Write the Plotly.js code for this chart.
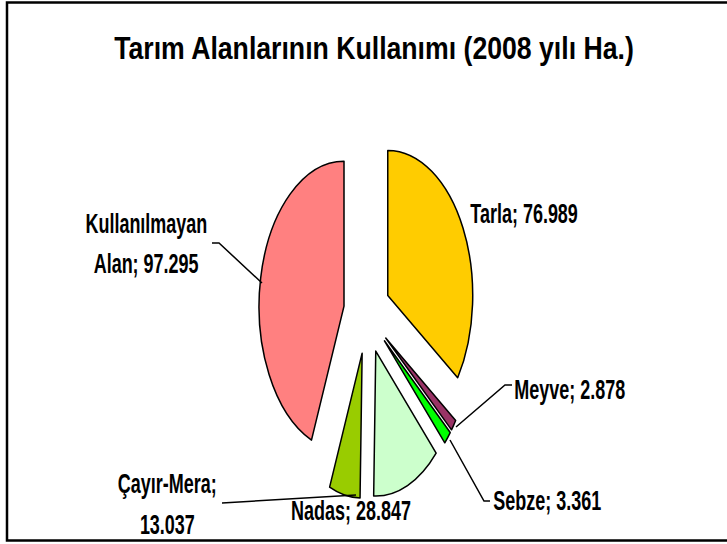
<!DOCTYPE html>
<html>
<head>
<meta charset="utf-8">
<script src="https://cdn.plot.ly/plotly-3.0.1.min.js"></script>
<style>
  html, body { margin: 0; padding: 0; background: #ffffff; }
  #chart { width: 727px; height: 544px; }
</style>
</head>
<body>
<div id="chart"></div>
<script>
// ---- data ----
const categories = ["Tarla", "Meyve", "Sebze", "Nadas", "Çayır-Mera", "Kullanılmayan Alan"];
const values = [76.989, 2.878, 3.361, 28.847, 13.037, 97.295];
const sliceColors = ["#FFCC00", "#993366", "#00FF00", "#CCFFCC", "#99CC00", "#FF8080"];
const chartTitle = "Tarım Alanlarının Kullanımı (2008 yılı Ha.)";

// ---- layout helpers ----
const W = 727, H = 544;
const px = x => x / W;
const py = y => 1 - y / H;
const FONT = "'Liberation Sans', Arial, sans-serif";
const LABEL_SQUEEZE = 0.631, TITLE_SQUEEZE = 0.888;
const fmt = v => v.toFixed(3);
const lbl = i => categories[i] + "; " + fmt(values[i]);

// label placement (pixel positions), lines of each label
const labelSpecs = [
  { lines: [lbl(0)], x: 469, y: [213], anchor: "left" },
  { lines: [lbl(1)], x: 513, y: [389], anchor: "left" },
  { lines: [lbl(2)], x: 492, y: [500], anchor: "left" },
  { lines: [lbl(3)], x: 351, y: [510], anchor: "center" },
  { lines: [categories[4] + ";", fmt(values[4])], x: 167, y: [483, 524], anchor: "center" },
  { lines: [categories[5].split(" ")[0], categories[5].split(" ")[1] + "; " + fmt(values[5])], x: 146, y: [223, 263], anchor: "center" }
];

const annotations = [];
const annAnchors = [];
labelSpecs.forEach(s => {
  s.lines.forEach((t, k) => {
    annotations.push({
      text: t, xref: "paper", yref: "paper",
      x: px(s.x), y: py(s.y[k]), xanchor: s.anchor, yanchor: "middle",
      showarrow: false,
      font: { family: FONT, size: 28.5, color: "#000000", weight: "bold" }
    });
    annAnchors.push(s.x);
  });
});

const pathPx = pts => "M " + pts.map(p => px(p[0]) + "," + py(p[1])).join(" L ");
const leaders = [
  [[212, 243], [219, 243], [262, 283]],
  [[456, 427], [505, 385], [512, 385]],
  [[450, 440], [484, 501], [490, 501]],
  [[222, 503], [356, 495]]
];
const shapes = leaders.map(pts => ({
  type: "path", xref: "paper", yref: "paper", path: pathPx(pts),
  line: { color: "#000000", width: 1.5 }
}));
// outer frame
shapes.push({
  type: "rect", xref: "paper", yref: "paper",
  x0: px(7), x1: px(760), y0: py(540.5), y1: py(2.5),
  line: { color: "#000000", width: 2.5 }, fillcolor: "rgba(0,0,0,0)"
});

const trace = {
  type: "pie",
  labels: categories,
  values: values,
  sort: false,
  direction: "clockwise",
  rotation: 0,
  pull: values.map(() => 0.276),
  marker: { colors: sliceColors, line: { color: "#000000", width: 1.5 } },
  textinfo: "none",
  hoverinfo: "none",
  showlegend: false,
  domain: { x: [px(167), px(567)], y: [py(499), py(129)] }
};

const TITLE_X = 374;
const layout = {
  width: W, height: H,
  margin: { l: 0, r: 0, t: 0, b: 0 },
  paper_bgcolor: "#ffffff",
  plot_bgcolor: "#ffffff",
  showlegend: false,
  title: {
    text: chartTitle,
    x: px(TITLE_X), xanchor: "center",
    y: py(48), yanchor: "middle",
    font: { family: FONT, size: 30.5, color: "#000000", weight: "bold" }
  },
  annotations: annotations,
  shapes: shapes
};

const squeeze = (el, ax, s) => {
  if (el) el.setAttribute("transform", `translate(${ax},0) scale(${s},1) translate(${-ax},0)`);
};

Plotly.newPlot("chart", [trace], layout, { displayModeBar: false, staticPlot: true }).then(() => {
  // squeeze the pie horizontally into an ellipse like the reference
  const g = document.querySelector(".pielayer");
  if (g) {
    squeeze(g, 367, 0.586);
    g.querySelectorAll("path").forEach(p => { p.style.vectorEffect = "non-scaling-stroke"; });
  }
  // condensed lettering like the reference
  document.querySelectorAll("g.annotation").forEach(a => {
    const i = +a.getAttribute("data-index");
    squeeze(a, annAnchors[i], LABEL_SQUEEZE);
  });
  squeeze(document.querySelector(".g-gtitle"), TITLE_X, 0.874);
});
</script>
</body>
</html>
